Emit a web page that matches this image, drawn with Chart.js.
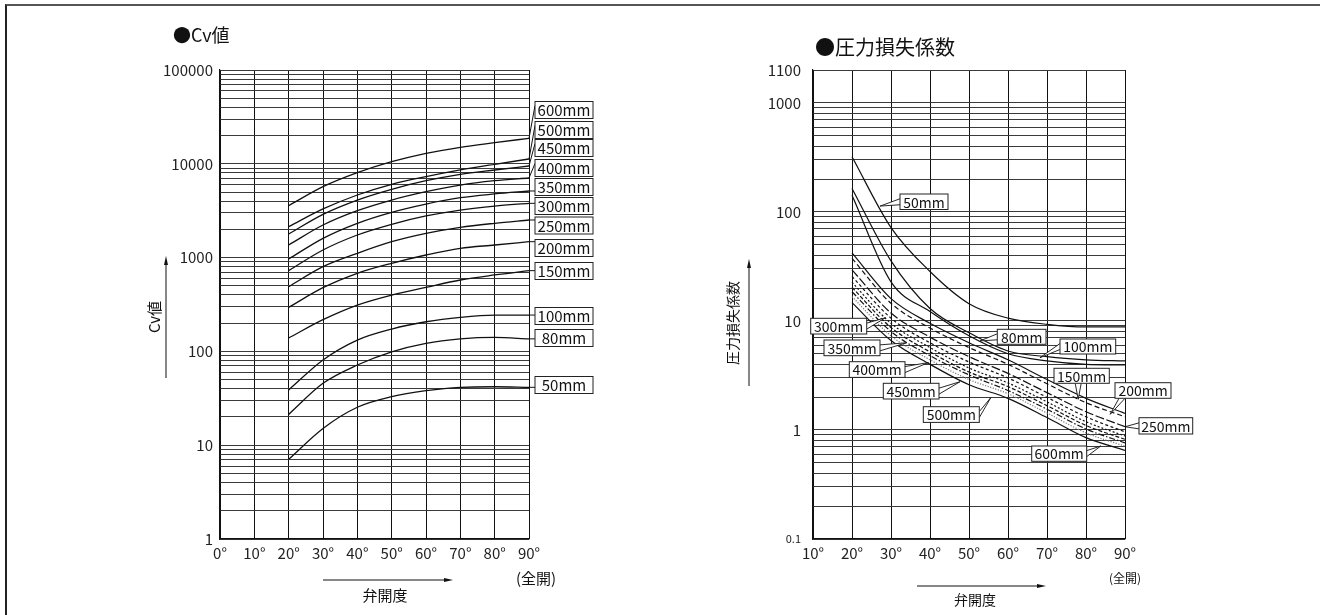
<!DOCTYPE html>
<html>
<head>
<meta charset="utf-8">
<script src="https://cdn.jsdelivr.net/npm/chart.js@4.4.1/dist/chart.umd.min.js"></script>
<style>
  html, body { margin: 0; padding: 0; background: #fff; }
  #wrap { position: relative; width: 1320px; height: 615px; overflow: hidden; }
  #frame { position: absolute; left: 5px; top: 4px; width: 1330px; height: 630px;
           border-top: 2px solid #555; border-left: 2px solid #222; }
  #cvBox { position: absolute; left: 0; top: 0; width: 660px; height: 615px; }
  #kBox { position: absolute; left: 660px; top: 0; width: 660px; height: 615px; }
</style>
</head>
<body>
<div id="wrap">
  <div id="frame"></div>
  <div id="cvBox"><canvas id="cvChart" width="660" height="615"></canvas></div>
  <div id="kBox"><canvas id="kChart" width="660" height="615"></canvas></div>
</div>
<script>
const FONT = '"Noto Sans CJK JP", "Noto Sans", sans-serif';

// ---- Cv値 ----
const cvDegrees = [20, 30, 40, 50, 60, 70, 80, 90];
const cvSizes = ['600mm', '500mm', '450mm', '400mm', '350mm', '300mm', '250mm', '200mm', '150mm', '100mm', '80mm', '50mm'];
const cv600 = [3575, 5700, 8040, 10520, 12940, 15000, 16800, 18700];
const cv500 = [2136, 3300, 4650, 6040, 7290, 8600, 9880, 11250];
const cv450 = [1787, 2893, 4110, 5350, 6600, 7730, 8590, 9480];
const cv400 = [1362, 2225, 3165, 4110, 5040, 5940, 6600, 7060];
const cv350 = [966, 1606, 2322, 3040, 3725, 4350, 4770, 5130];
const cv300 = [726, 1205, 1742, 2265, 2778, 3215, 3547, 3790];
const cv250 = [490, 800, 1111, 1478, 1815, 2103, 2322, 2517];
const cv200 = [295, 478, 680, 869, 1066, 1256, 1362, 1478];
const cv150 = [139, 218, 312, 399, 482, 577, 653, 726];
const cv100 = [38.8, 81, 132, 173, 207, 231, 244, 244];
const cv80 = [21.3, 45.7, 71.6, 99, 122, 136, 141, 136];
const cv50 = [7.07, 15.1, 25.4, 32.9, 38.1, 41.4, 42, 41.4];
const cvSeries = [cv600, cv500, cv450, cv400, cv350, cv300, cv250, cv200, cv150, cv100, cv80, cv50];
const cvXTicks = [0, 10, 20, 30, 40, 50, 60, 70, 80, 90];
const cvYTicks = [1, 10, 100, 1000, 10000, 100000];

// ---- 圧力損失係数 ----
const kDegrees = [20, 30, 40, 50, 60, 70, 80, 90];
const kSizes = ['50mm', '80mm', '100mm', '150mm', '200mm', '250mm', '300mm', '350mm', '400mm', '450mm', '500mm', '600mm'];
const k50 = [320, 71.8, 28.4, 14.4, 10.6, 9.3, 8.8, 8.8];
const k80 = [164, 35.5, 13, 7.8, 5.3, 4.7, 4.4, 4.3];
const k100 = [142, 22.8, 12.2, 7.3, 5.0, 4.3, 4.0, 3.95];
const k150 = [42, 16, 9.5, 6.3, 4.4, 2.9, 1.95, 1.42];
const k200 = [37.4, 14.5, 8.6, 5.7, 4.0, 2.65, 1.78, 1.32];
const k250 = [29.4, 11.8, 7.1, 4.7, 3.3, 2.2, 1.47, 1.07];
const k300 = [25.6, 10.6, 6.3, 4.2, 3.0, 1.99, 1.32, 0.96];
const k350 = [22.6, 9.5, 5.7, 3.7, 2.7, 1.81, 1.19, 0.88];
const k400 = [20.3, 8.7, 5.2, 3.4, 2.5, 1.67, 1.10, 0.82];
const k450 = [18.5, 8.0, 4.8, 3.2, 2.3, 1.55, 1.02, 0.76];
const k500 = [16.7, 7.3, 4.4, 2.9, 2.15, 1.43, 0.94, 0.71];
const k600 = [14.7, 6.6, 4.0, 2.6, 1.95, 1.3, 0.85, 0.65];
const kSeries = [k50, k80, k100, k150, k200, k250, k300, k350, k400, k450, k500, k600];
const kXTicks = [10, 20, 30, 40, 50, 60, 70, 80, 90];
const kYTicks = [0.1, 1, 10, 100, 1000, 2000];
const kYTickLabels = ['0.1', '1', '10', '100', '1000', '1100'];

// line styles for the loss chart
const kDash = [[], [], [], [], [5, 3], [9, 2.5], [3, 2.5], [2, 2], [4, 2], [6, 2, 1.5, 2], [1.2, 1.5], []];
const kColor = ['#111', '#111', '#111', '#111', '#111', '#111', '#111', '#111', '#111', '#111', '#777', '#111'];

// label boxes (canvas px); left chart boxes sit right of the plot
const cvLabelY = [110, 130, 148, 168, 187, 206, 225.5, 248, 271, 316, 338, 385];
const kLabels = [
  { name: '50mm', x: 240, y: 194, w: 48, h: 15.5, side: 'left', tip: [27.2, 113] },
  { name: '80mm', x: 337.3, y: 329.3, w: 48.7, h: 15, side: 'left', tip: [52.8, 6.55] },
  { name: '100mm', x: 400, y: 339, w: 55.7, h: 15, side: 'left', tip: [68.2, 4.6] },
  { name: '150mm', x: 394, y: 368.3, w: 55.3, h: 15, side: 'bottom', tip: [78, 1.91] },
  { name: '200mm', x: 455, y: 382.7, w: 56, h: 15.6, side: 'bottomleft', tip: [86.2, 1.39] },
  { name: '250mm', x: 479, y: 417.7, w: 53.7, h: 16.3, side: 'left', tip: [90, 1.07] },
  { name: '300mm', x: 150.7, y: 318.3, w: 56, h: 15.7, side: 'right', tip: [28.6, 10.7] },
  { name: '350mm', x: 164, y: 340, w: 56, h: 15.7, side: 'right', tip: [34, 6.3] },
  { name: '400mm', x: 189.3, y: 361.7, w: 55.7, h: 15.7, side: 'right', tip: [39.6, 4.15] },
  { name: '450mm', x: 223.3, y: 383.3, w: 55.7, h: 15.7, side: 'right', tip: [47.7, 2.77] },
  { name: '500mm', x: 263.3, y: 406.7, w: 56, h: 15.7, side: 'right', tip: [55.6, 1.98] },
  { name: '600mm', x: 371.7, y: 446, w: 55, h: 15.3, side: 'right', tip: [83.8, 0.713] }
];

function logGrid(min, max) {
  const ticks = [];
  for (let d = min; d < max * 0.999; d *= 10) {
    for (let m = 1; m < 10; m++) ticks.push({ value: +(d * m).toPrecision(3) });
  }
  ticks.push({ value: max });
  return ticks;
}

function arrow(ctx, x1, y1, x2, y2) {
  const a = Math.atan2(y2 - y1, x2 - x1), len = 9, hw = 2;
  ctx.beginPath();
  ctx.moveTo(x1, y1);
  ctx.lineTo(x2 - Math.cos(a) * len, y2 - Math.sin(a) * len);
  ctx.stroke();
  ctx.beginPath();
  ctx.moveTo(x2, y2);
  ctx.lineTo(x2 - Math.cos(a) * len - Math.sin(a) * hw, y2 - Math.sin(a) * len + Math.cos(a) * hw);
  ctx.lineTo(x2 - Math.cos(a) * len + Math.sin(a) * hw, y2 - Math.sin(a) * len - Math.cos(a) * hw);
  ctx.closePath();
  ctx.fill();
}

function labelBox(ctx, text, x, y, w, h, size) {
  ctx.fillStyle = '#fff';
  ctx.fillRect(x, y, w, h);
  ctx.strokeStyle = '#222';
  ctx.lineWidth = 1;
  ctx.strokeRect(x, y, w, h);
  ctx.fillStyle = '#111';
  ctx.font = size + 'px ' + FONT;
  ctx.textAlign = 'center';
  ctx.textBaseline = 'middle';
  ctx.fillText(text, x + w / 2, y + h / 2 + 0.5);
}

function vText(ctx, text, x, y, size) {
  ctx.save();
  ctx.translate(x, y);
  ctx.rotate(-Math.PI / 2);
  ctx.font = size + 'px ' + FONT;
  ctx.textAlign = 'center';
  ctx.textBaseline = 'middle';
  ctx.fillText(text, 0, 0);
  ctx.restore();
}

const cvExtras = {
  id: 'cvExtras',
  afterDatasetsDraw(chart) {
    const { ctx, scales: { x, y } } = chart;
    ctx.save();
    ctx.fillStyle = '#111';
    ctx.strokeStyle = '#111';
    ctx.font = '18px ' + FONT;
    ctx.textAlign = 'left';
    ctx.textBaseline = 'middle';
    ctx.fillText('●Cv値', 173, 35);

    cvSizes.forEach((name, i) => {
      const vals = cvSeries[i];
      const ex = x.getPixelForValue(90), ey = y.getPixelForValue(vals[vals.length - 1]);
      const top = cvLabelY[i] - 8.5, bottom = cvLabelY[i] + 8.5;
      const ay = ey > bottom ? top + 4 : (ey < top ? bottom - 4 : ey);
      ctx.strokeStyle = '#111';
      ctx.lineWidth = 1;
      ctx.beginPath();
      ctx.moveTo(ex, ey);
      ctx.lineTo(535, ay);
      ctx.stroke();
      labelBox(ctx, name, 535, top, 58, 17, 15);
    });

    ctx.fillStyle = '#111';
    ctx.strokeStyle = '#111';
    ctx.lineWidth = 1;
    vText(ctx, 'Cv値', 154, 317, 15);
    arrow(ctx, 166, 378, 166, 256);
    arrow(ctx, 323, 580, 453, 580);
    ctx.font = '15px ' + FONT;
    ctx.textAlign = 'center';
    ctx.textBaseline = 'middle';
    ctx.fillText('弁開度', 385, 595);
    ctx.fillText('(全開)', 536, 578);
    ctx.restore();
  }
};

const kExtras = {
  id: 'kExtras',
  afterDatasetsDraw(chart) {
    const { ctx, scales: { x, y } } = chart;
    ctx.save();
    ctx.fillStyle = '#111';
    ctx.font = '20px ' + FONT;
    ctx.textAlign = 'left';
    ctx.textBaseline = 'middle';
    ctx.fillText('●圧力損失係数', 155, 47);

    kLabels.forEach(l => {
      const tx = x.getPixelForValue(l.tip[0]), ty = y.getPixelForValue(l.tip[1]);
      const cy = l.y + l.h / 2;
      let b1, b2;
      if (l.side === 'left') { b1 = [l.x, cy - 3]; b2 = [l.x, cy + 3]; }
      else if (l.side === 'right') { b1 = [l.x + l.w, cy - 3]; b2 = [l.x + l.w, cy + 3]; }
      else if (l.side === 'bottom') { b1 = [tx - 3, l.y + l.h]; b2 = [tx + 3, l.y + l.h]; }
      else { b1 = [l.x + 4, l.y + l.h]; b2 = [l.x + 10, l.y + l.h]; }
      ctx.fillStyle = '#fff';
      ctx.strokeStyle = '#111';
      ctx.lineWidth = 0.9;
      ctx.beginPath();
      ctx.moveTo(b1[0], b1[1]);
      ctx.lineTo(tx, ty);
      ctx.lineTo(b2[0], b2[1]);
      ctx.fill();
      ctx.stroke();
      labelBox(ctx, l.name, l.x, l.y, l.w, l.h, 14);
    });

    ctx.fillStyle = '#111';
    ctx.strokeStyle = '#111';
    ctx.lineWidth = 1;
    vText(ctx, '圧力損失係数', 73, 323, 14);
    arrow(ctx, 89, 386, 89, 259);
    arrow(ctx, 257, 586, 386, 586);
    ctx.font = '14px ' + FONT;
    ctx.textAlign = 'center';
    ctx.textBaseline = 'middle';
    ctx.fillText('弁開度', 315, 600);
    ctx.font = '12px ' + FONT;
    ctx.fillText('(全開)', 465, 578);
    ctx.restore();
  }
};

function tickFont(size) { return { family: FONT, size: size }; }

new Chart(document.getElementById('cvChart'), {
  type: 'line',
  data: {
    datasets: cvSeries.map((vals, i) => ({
      label: cvSizes[i],
      data: vals.map((v, j) => ({ x: cvDegrees[j], y: v })),
      borderColor: '#111',
      borderWidth: 1.3,
      pointRadius: 0,
      fill: false,
      cubicInterpolationMode: 'monotone'
    }))
  },
  options: {
    responsive: false,
    animation: false,
    layout: { padding: { top: 70, right: 131, bottom: 0, left: 0 } },
    plugins: { legend: { display: false }, tooltip: { enabled: false } },
    scales: {
      x: {
        type: 'linear', min: 0, max: 90,
        afterBuildTicks: s => { s.ticks = cvXTicks.map(v => ({ value: v })); },
        afterFit: s => { s.height = 76; },
        ticks: { autoSkip: false, maxRotation: 0, padding: 5, color: '#222', font: tickFont(15),
                 callback: v => v + '°' },
        grid: { color: '#111', lineWidth: 1, drawTicks: false },
        border: { color: '#111', width: 1.2 }
      },
      y: {
        type: 'logarithmic', min: 1, max: 100000,
        afterBuildTicks: s => { s.ticks = logGrid(1, 100000); },
        afterFit: s => { s.width = 220; },
        ticks: { autoSkip: false, padding: 7, color: '#222', font: tickFont(15),
                 callback: v => cvYTicks.includes(v) ? String(v) : '' },
        grid: { color: '#3a3a3a', lineWidth: 1, drawTicks: false },
        border: { color: '#111', width: 1.2 }
      }
    }
  },
  plugins: [cvExtras]
});

new Chart(document.getElementById('kChart'), {
  type: 'line',
  data: {
    datasets: kSeries.map((vals, i) => ({
      label: kSizes[i],
      data: vals.map((v, j) => ({ x: kDegrees[j], y: v })),
      borderColor: kColor[i],
      borderDash: kDash[i],
      borderWidth: 1.2,
      pointRadius: 0,
      fill: false,
      cubicInterpolationMode: 'monotone'
    }))
  },
  options: {
    responsive: false,
    animation: false,
    layout: { padding: { top: 70, right: 195, bottom: 0, left: 0 } },
    plugins: { legend: { display: false }, tooltip: { enabled: false } },
    scales: {
      x: {
        type: 'linear', min: 10, max: 90,
        afterBuildTicks: s => { s.ticks = kXTicks.map(v => ({ value: v })); },
        afterFit: s => { s.height = 76; },
        ticks: { autoSkip: false, maxRotation: 0, padding: 5, color: '#222', font: tickFont(15),
                 callback: v => v + '°' },
        grid: { color: '#111', lineWidth: 1, drawTicks: false },
        border: { color: '#111', width: 1.2 }
      },
      y: {
        type: 'logarithmic', min: 0.1, max: 2000,
        afterBuildTicks: s => { s.ticks = logGrid(0.1, 1000).concat([{ value: 2000 }]); },
        afterFit: s => { s.width = 153; },
        ticks: {
          autoSkip: false, padding: 12, color: '#222',
          font: c => tickFont(c.tick && c.tick.value < 0.5 ? 11 : 15),
          callback: v => {
            const i = kYTicks.findIndex(t => Math.abs(t - v) < 1e-9);
            return i < 0 ? '' : kYTickLabels[i];
          }
        },
        grid: { color: '#3a3a3a', lineWidth: 1, drawTicks: false },
        border: { color: '#111', width: 1.2 }
      }
    }
  },
  plugins: [kExtras]
});
</script>
</body>
</html>
